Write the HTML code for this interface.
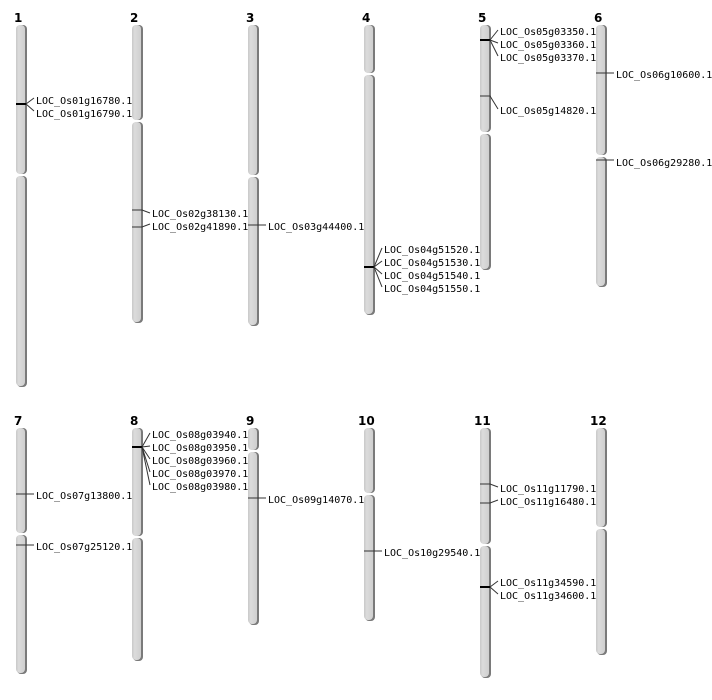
<!DOCTYPE html>
<html><head><meta charset="utf-8"><style>
html,body{margin:0;padding:0;background:#fff}
svg{display:block}
text{font-family:"DejaVu Sans Mono","Liberation Mono",monospace;font-size:10px;fill:#000}
.n{font-family:"DejaVu Sans","Liberation Sans",sans-serif;font-size:12px;font-weight:bold}
.s{fill:#7a7a7a}
.r{fill:url(#g)}
.t{stroke:#333;stroke-width:1;fill:none}
.k{stroke:#000;stroke-width:2;fill:none}
</style></head><body>
<svg width="712" height="700" viewBox="0 0 712 700" xmlns="http://www.w3.org/2000/svg">
<defs><linearGradient id="g" x1="0" x2="1" y1="0" y2="0">
<stop offset="0" stop-color="#c8c8c8"/><stop offset="0.3" stop-color="#dcdcdc"/><stop offset="1" stop-color="#cfcfcf"/></linearGradient></defs>

<!-- numbers -->
<text class="n" x="14" y="22">1</text>
<text class="n" x="130" y="22">2</text>
<text class="n" x="246" y="22">3</text>
<text class="n" x="362" y="22">4</text>
<text class="n" x="478" y="22">5</text>
<text class="n" x="594" y="22">6</text>
<text class="n" x="14" y="425">7</text>
<text class="n" x="130" y="425">8</text>
<text class="n" x="246" y="425">9</text>
<text class="n" x="358" y="425">10</text>
<text class="n" x="474" y="425">11</text>
<text class="n" x="590" y="425">12</text>

<!-- chromosomes: shadow then body; arms -->
<g>
<!-- chr1 c=21 25-387 cen175 -->
<rect class="s" x="17" y="25" width="10" height="149" rx="4"/><rect class="r" x="16" y="25" width="9" height="149" rx="4"/>
<rect class="s" x="17" y="176" width="10" height="211" rx="4"/><rect class="r" x="16" y="176" width="9" height="210" rx="4"/>
<!-- chr2 c=137 25-323 cen121 -->
<rect class="s" x="133" y="25" width="10" height="95" rx="4"/><rect class="r" x="132" y="25" width="9" height="95" rx="4"/>
<rect class="s" x="133" y="122" width="10" height="201" rx="4"/><rect class="r" x="132" y="122" width="9" height="200" rx="4"/>
<!-- chr3 c=253 25-326 cen176 -->
<rect class="s" x="249" y="25" width="10" height="150" rx="4"/><rect class="r" x="248" y="25" width="9" height="150" rx="4"/>
<rect class="s" x="249" y="177" width="10" height="149" rx="4"/><rect class="r" x="248" y="177" width="9" height="148" rx="4"/>
<!-- chr4 c=369 25-315 cen74 -->
<rect class="s" x="365" y="25" width="10" height="48" rx="4"/><rect class="r" x="364" y="25" width="9" height="48" rx="4"/>
<rect class="s" x="365" y="75" width="10" height="240" rx="4"/><rect class="r" x="364" y="75" width="9" height="239" rx="4"/>
<!-- chr5 c=485 25-270 cen133 -->
<rect class="s" x="481" y="25" width="10" height="107" rx="4"/><rect class="r" x="480" y="25" width="9" height="107" rx="4"/>
<rect class="s" x="481" y="134" width="10" height="136" rx="4"/><rect class="r" x="480" y="134" width="9" height="135" rx="4"/>
<!-- chr6 c=601 25-287 cen156 -->
<rect class="s" x="597" y="25" width="10" height="130" rx="4"/><rect class="r" x="596" y="25" width="9" height="130" rx="4"/>
<rect class="s" x="597" y="157" width="10" height="130" rx="4"/><rect class="r" x="596" y="157" width="9" height="129" rx="4"/>
<!-- chr7 c=21 428-674 cen534 -->
<rect class="s" x="17" y="428" width="10" height="105" rx="4"/><rect class="r" x="16" y="428" width="9" height="105" rx="4"/>
<rect class="s" x="17" y="535" width="10" height="139" rx="4"/><rect class="r" x="16" y="535" width="9" height="138" rx="4"/>
<!-- chr8 c=137 428-661 cen537 -->
<rect class="s" x="133" y="428" width="10" height="108" rx="4"/><rect class="r" x="132" y="428" width="9" height="108" rx="4"/>
<rect class="s" x="133" y="538" width="10" height="123" rx="4"/><rect class="r" x="132" y="538" width="9" height="122" rx="4"/>
<!-- chr9 c=253 428-625 cen451 -->
<rect class="s" x="249" y="428" width="10" height="22" rx="4"/><rect class="r" x="248" y="428" width="9" height="22" rx="4"/>
<rect class="s" x="249" y="452" width="10" height="173" rx="4"/><rect class="r" x="248" y="452" width="9" height="172" rx="4"/>
<!-- chr10 c=369 428-621 cen494 -->
<rect class="s" x="365" y="428" width="10" height="65" rx="4"/><rect class="r" x="364" y="428" width="9" height="65" rx="4"/>
<rect class="s" x="365" y="495" width="10" height="126" rx="4"/><rect class="r" x="364" y="495" width="9" height="125" rx="4"/>
<!-- chr11 c=485 428-678 cen545 -->
<rect class="s" x="481" y="428" width="10" height="116" rx="4"/><rect class="r" x="480" y="428" width="9" height="116" rx="4"/>
<rect class="s" x="481" y="546" width="10" height="132" rx="4"/><rect class="r" x="480" y="546" width="9" height="131" rx="4"/>
<!-- chr12 c=601 428-655 cen528 -->
<rect class="s" x="597" y="428" width="10" height="99" rx="4"/><rect class="r" x="596" y="428" width="9" height="99" rx="4"/>
<rect class="s" x="597" y="529" width="10" height="126" rx="4"/><rect class="r" x="596" y="529" width="9" height="125" rx="4"/>
</g>

<!-- markers -->
<!-- chr1 -->
<line class="k" x1="16" y1="104" x2="26" y2="104"/>
<path class="t" d="M26 104L34 98M26 104L34 111"/>
<text x="36" y="104">LOC_Os01g16780.1</text>
<text x="36" y="117">LOC_Os01g16790.1</text>
<!-- chr2 -->
<path class="t" d="M132 210H142L150 213M132 227H142L150 224"/>
<text x="152" y="217">LOC_Os02g38130.1</text>
<text x="152" y="230">LOC_Os02g41890.1</text>
<!-- chr3 -->
<path class="t" d="M248 225H266"/>
<text x="268" y="230">LOC_Os03g44400.1</text>
<!-- chr4 -->
<line class="k" x1="364" y1="267" x2="374" y2="267"/>
<path class="t" d="M374 267L382 248M374 267L382 261M374 267L382 274M374 267L382 287"/>
<text x="384" y="253">LOC_Os04g51520.1</text>
<text x="384" y="266">LOC_Os04g51530.1</text>
<text x="384" y="279">LOC_Os04g51540.1</text>
<text x="384" y="292">LOC_Os04g51550.1</text>
<!-- chr5 -->
<line class="k" x1="480" y1="40" x2="490" y2="40"/>
<path class="t" d="M490 40L498 30M490 40L498 43M490 40L498 56"/>
<text x="500" y="35">LOC_Os05g03350.1</text>
<text x="500" y="48">LOC_Os05g03360.1</text>
<text x="500" y="61">LOC_Os05g03370.1</text>
<path class="t" d="M480 96H490L498 109"/>
<text x="500" y="114">LOC_Os05g14820.1</text>
<!-- chr6 -->
<path class="t" d="M596 73H614"/>
<text x="616" y="78">LOC_Os06g10600.1</text>
<path class="t" d="M596 160H614"/>
<text x="616" y="166">LOC_Os06g29280.1</text>
<!-- chr7 -->
<path class="t" d="M16 494H34"/>
<text x="36" y="499">LOC_Os07g13800.1</text>
<path class="t" d="M16 545H34"/>
<text x="36" y="550">LOC_Os07g25120.1</text>
<!-- chr8 -->
<line class="k" x1="132" y1="447" x2="142" y2="447"/>
<path class="t" d="M142 447L150 433M142 447L150 446M142 447L150 459M142 447L150 472M142 447L150 485"/>
<text x="152" y="438">LOC_Os08g03940.1</text>
<text x="152" y="451">LOC_Os08g03950.1</text>
<text x="152" y="464">LOC_Os08g03960.1</text>
<text x="152" y="477">LOC_Os08g03970.1</text>
<text x="152" y="490">LOC_Os08g03980.1</text>
<!-- chr9 -->
<path class="t" d="M248 498H266"/>
<text x="268" y="503">LOC_Os09g14070.1</text>
<!-- chr10 -->
<path class="t" d="M364 551H382"/>
<text x="384" y="556">LOC_Os10g29540.1</text>
<!-- chr11 -->
<path class="t" d="M480 484H490L498 487M480 503H490L498 500"/>
<text x="500" y="492">LOC_Os11g11790.1</text>
<text x="500" y="505">LOC_Os11g16480.1</text>
<line class="k" x1="480" y1="587" x2="490" y2="587"/>
<path class="t" d="M490 587L498 581M490 587L498 594"/>
<text x="500" y="586">LOC_Os11g34590.1</text>
<text x="500" y="599">LOC_Os11g34600.1</text>
</svg>
</body></html>
